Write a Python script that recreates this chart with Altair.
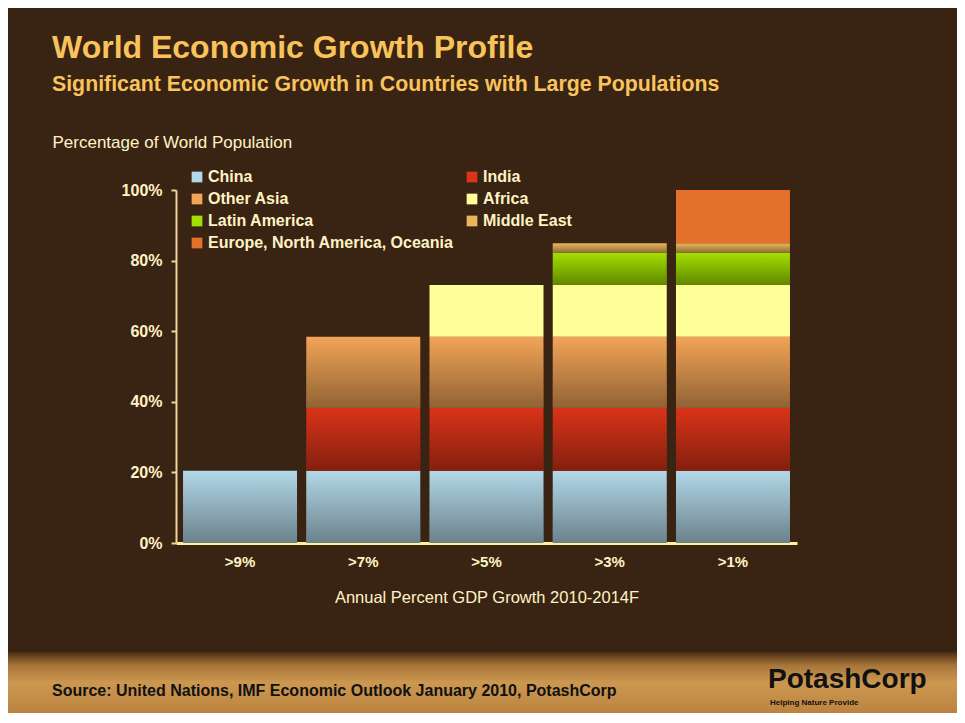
import altair as alt
import pandas as pd

# ---- data ----
growth_labels = [">9%", ">7%", ">5%", ">3%", ">1%"]
regions = ["China", "India", "Other Asia", "Africa", "Latin America",
           "Middle East", "Europe, North America, Oceania"]
shares = [20.5, 17.8, 20.1, 14.7, 9.1, 2.7, 15.1]      # % of world population
first_bar = [0, 1, 1, 2, 3, 3, 4]                      # first growth group a region qualifies for
region_colors = ["#B2D8E8", "#DA3418", "#F2A457", "#FFFF99",
                 "#A2E000", "#E9B65A", "#E3712A"]
# legend reading order (two columns, filled column by column)
legend_order = ["China", "Other Asia", "Latin America", "Europe, North America, Oceania",
                "India", "Africa", "Middle East"]
shaded_regions = ["China", "India", "Other Asia", "Latin America", "Middle East"]

rows = []
for gi, g in enumerate(growth_labels):
    for ri, r in enumerate(regions):
        if first_bar[ri] <= gi:
            rows.append({"growth": g, "region": r, "share": shares[ri], "order": ri})
df = pd.DataFrame(rows)

color_of = dict(zip(regions, region_colors))
legend_colors = [color_of[r] for r in legend_order]

FONT = "Liberation Sans"
CREAM = "#FFF3C4"
GOLD = "#F9C35C"

W, H = 621, 353
PAD = {"left": 168, "top": 182, "right": 160, "bottom": 170}

base = alt.Chart(df).transform_stack(
    stack="share", groupby=["growth"], as_=["y0", "y1"],
    sort=[alt.SortField("order", order="ascending")]
)

x_enc = alt.X("growth:N", sort=growth_labels,
              scale=alt.Scale(paddingInner=0.075, paddingOuter=0.057),
              axis=alt.Axis(title="Annual Percent GDP Growth 2010-2014F", labelAngle=0,
                            labelFont=FONT, labelFontWeight="bold", labelFontSize=15,
                            labelColor=CREAM, labelPadding=11, ticks=False,
                            domainColor="#FFF0A0", domainWidth=3,
                            titleFont=FONT, titleFontWeight="normal", titleFontSize=16.5,
                            titleColor=CREAM, titlePadding=20))
y_enc = alt.Y("y0:Q", scale=alt.Scale(domain=[0, 100], nice=False),
              axis=alt.Axis(values=[0, 20, 40, 60, 80, 100],
                            labelExpr="datum.value + '%'", grid=False,
                            labelFont=FONT, labelFontWeight="bold", labelFontSize=16,
                            labelColor=CREAM, labelPadding=9,
                            domainColor="#F5D29A", domainWidth=2,
                            tickColor="#F5D29A", tickWidth=2, tickSize=5,
                            title="Percentage of World Population", titleAngle=0,
                            titleAlign="left", titleBaseline="middle",
                            titleX=-124, titleY=-48, titleFont=FONT,
                            titleFontWeight="normal", titleFontSize=17, titleColor=CREAM))

bars = base.mark_bar().encode(
    x=x_enc, y=y_enc, y2="y1:Q",
    color=alt.Color("region:N",
                    scale=alt.Scale(domain=legend_order, range=legend_colors),
                    legend=alt.Legend(title=None, orient="none", legendX=13, legendY=-21,
                                      direction="vertical", columns=2, columnPadding=10,
                                      rowPadding=6, symbolType="square", symbolSize=115,
                                      symbolStrokeWidth=0, labelOffset=3,
                                      labelFont=FONT, labelFontSize=16,
                                      labelFontWeight="bold", labelColor=CREAM,
                                      labelLimit=400)),
)

shade = base.transform_filter(
    alt.FieldOneOfPredicate(field="region", oneOf=shaded_regions)
).mark_bar(fill={"gradient": "linear", "x1": 0, "y1": 0, "x2": 0, "y2": 1,
                 "stops": [{"offset": 0, "color": "rgba(0,0,0,0)"},
                           {"offset": 1, "color": "rgba(0,0,0,0.40)"}]}).encode(
    x=alt.X("growth:N", sort=growth_labels), y="y0:Q", y2="y1:Q")

one = pd.DataFrame({"k": [0]})

band = alt.Chart(one).mark_rect(fill={
    "gradient": "linear", "x1": 0, "y1": 0, "x2": 0, "y2": 1,
    "stops": [{"offset": 0, "color": "#4A2C14"},
              {"offset": 0.2, "color": "#A8763A"},
              {"offset": 0.45, "color": "#CC9850"},
              {"offset": 1, "color": "#B87E3C"}]}).encode(
    x=alt.value(-170), x2=alt.value(790), y=alt.value(462), y2=alt.value(530))

title = alt.Chart(one).mark_text(text="World Economic Growth Profile", font=FONT,
                                 fontSize=32, fontWeight="bold", color=GOLD,
                                 align="left", baseline="alphabetic").encode(
    x=alt.value(-124), y=alt.value(-132))
subtitle = alt.Chart(one).mark_text(
    text="Significant Economic Growth in Countries with Large Populations", font=FONT,
    fontSize=21.3, fontWeight="bold", color=GOLD, align="left",
    baseline="alphabetic").encode(x=alt.value(-124), y=alt.value(-99))
source = alt.Chart(one).mark_text(
    text="Source: United Nations,  IMF Economic Outlook January 2010, PotashCorp",
    font=FONT, fontSize=16, fontWeight="bold", color="#111111", align="left",
    baseline="middle").encode(x=alt.value(-124), y=alt.value(501))
logo = alt.Chart(one).mark_text(text="PotashCorp", font=FONT, fontSize=28,
                                fontWeight="bold", color="#111111", align="left",
                                baseline="middle").encode(x=alt.value(592), y=alt.value(490))
tagline = alt.Chart(one).mark_text(text="Helping Nature Provide", font=FONT, fontSize=8,
                                   fontWeight="bold", color="#111111", align="left",
                                   baseline="middle").encode(x=alt.value(594), y=alt.value(513))

chart = alt.layer(band, bars, shade, title, subtitle, source, logo, tagline).properties(
    width=W, height=H,
    autosize=alt.AutoSizeParams(type="none"),
    padding=PAD,
    background="#392313",
).configure_view(stroke=None)

chart.save("out.html", embed_options={"renderer": "svg", "actions": False})
